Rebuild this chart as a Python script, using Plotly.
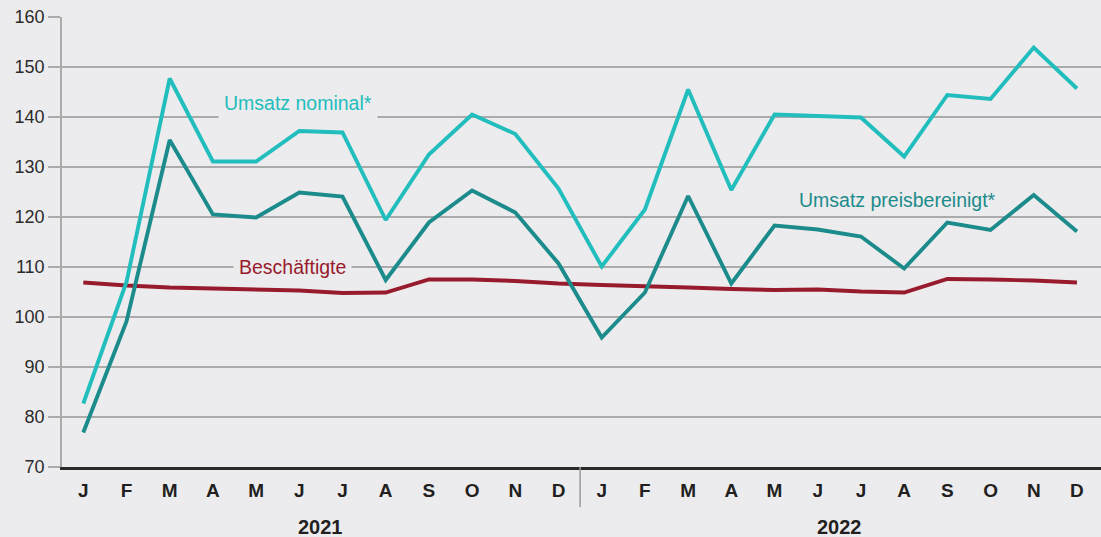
import plotly.graph_objects as go

months = ["J", "F", "M", "A", "M", "J", "J", "A", "S", "O", "N", "D",
          "J", "F", "M", "A", "M", "J", "J", "A", "S", "O", "N", "D"]
years = ["2021", "2022"]

umsatz_nominal = [82.7, 107.0, 147.7, 131.1, 131.1, 137.2, 136.9, 119.4, 132.5, 140.5, 136.6, 125.7,
                  110.1, 121.5, 145.5, 125.4, 140.5, 140.2, 139.9, 132.1, 144.4, 143.6, 153.9, 145.7]
umsatz_real = [76.9, 99.1, 135.4, 120.5, 119.9, 124.9, 124.1, 107.4, 118.9, 125.3, 120.9, 110.7,
               95.9, 104.9, 124.2, 106.7, 118.3, 117.5, 116.1, 109.7, 118.9, 117.4, 124.4, 117.1]
beschaeftigte = [106.9, 106.3, 105.9, 105.7, 105.5, 105.3, 104.8, 104.9, 107.5, 107.5, 107.2, 106.7,
                 106.4, 106.2, 105.9, 105.6, 105.4, 105.5, 105.1, 104.9, 107.6, 107.5, 107.3, 106.9]

x = list(range(len(months)))

C_NOM = "#22BDBD"
C_REAL = "#1C8B8B"
C_BES = "#981B2D"
BG = "#ECECEE"
FONT = "Liberation Sans"

fig = go.Figure()
fig.add_trace(go.Scatter(x=x, y=beschaeftigte, mode="lines", line=dict(color=C_BES, width=3.9), name="Beschäftigte"))
fig.add_trace(go.Scatter(x=x, y=umsatz_real, mode="lines", line=dict(color=C_REAL, width=3.9), name="Umsatz preisbereinigt*"))
fig.add_trace(go.Scatter(x=x, y=umsatz_nominal, mode="lines", line=dict(color=C_NOM, width=3.9), name="Umsatz nominal*"))

annotations = [
    dict(x=4.97, y=142.8, xref="x", yref="y", text="Umsatz nominal*", showarrow=False,
         font=dict(family=FONT, size=19.5, color=C_NOM), bgcolor=BG, borderpad=5),
    dict(x=4.85, y=110.0, xref="x", yref="y", text="Beschäftigte", showarrow=False,
         font=dict(family=FONT, size=19.5, color=C_BES), bgcolor=BG, borderpad=5),
    dict(x=18.85, y=123.4, xref="x", yref="y", text="Umsatz preisbereinigt*", showarrow=False,
         font=dict(family=FONT, size=19.5, color=C_REAL)),
]
for k, yr in enumerate(years):
    annotations.append(dict(x=5.5 + 12 * k, y=-0.1333, xref="x", yref="paper", yanchor="middle",
                            text="<b>%s</b>" % yr, showarrow=False,
                            font=dict(family=FONT, size=20, color="#231F20")))

fig.update_layout(
    width=1101, height=537,
    margin=dict(l=62, r=0, t=17, b=70),
    paper_bgcolor=BG, plot_bgcolor=BG,
    showlegend=False,
    font=dict(family=FONT, size=18, color="#2B2B2B"),
    annotations=annotations,
    shapes=[dict(type="line", xref="x", yref="paper", x0=11.5, x1=11.5, y0=0, y1=-0.089,
                 line=dict(color="#9A9A9A", width=1.5))],
    xaxis=dict(range=[-0.493, 23.557], tickmode="array", tickvals=x,
               ticktext=["<b>%s</b>" % m for m in months],
               tickfont=dict(family=FONT, size=19, color="#231F20"),
               showgrid=False, zeroline=False, showline=True, linecolor="#2A2A2A", linewidth=3,
               ticks="outside", ticklen=4, tickcolor=BG),
    yaxis=dict(range=[70, 160], tickmode="array", tickvals=list(range(70, 161, 10)),
               showgrid=True, gridcolor="#ABABAB", gridwidth=1.5, zeroline=False,
               showline=True, linecolor="#ABABAB", linewidth=1.5,
               ticks="outside", ticklen=12, tickcolor="#ABABAB", tickwidth=1.5,
               tickfont=dict(family=FONT, size=18, color="#2B2B2B")),
)

fig.write_html("out.html", config={"displayModeBar": False},
               post_script="document.body.style.margin='0';document.body.style.background='%s';" % BG)
